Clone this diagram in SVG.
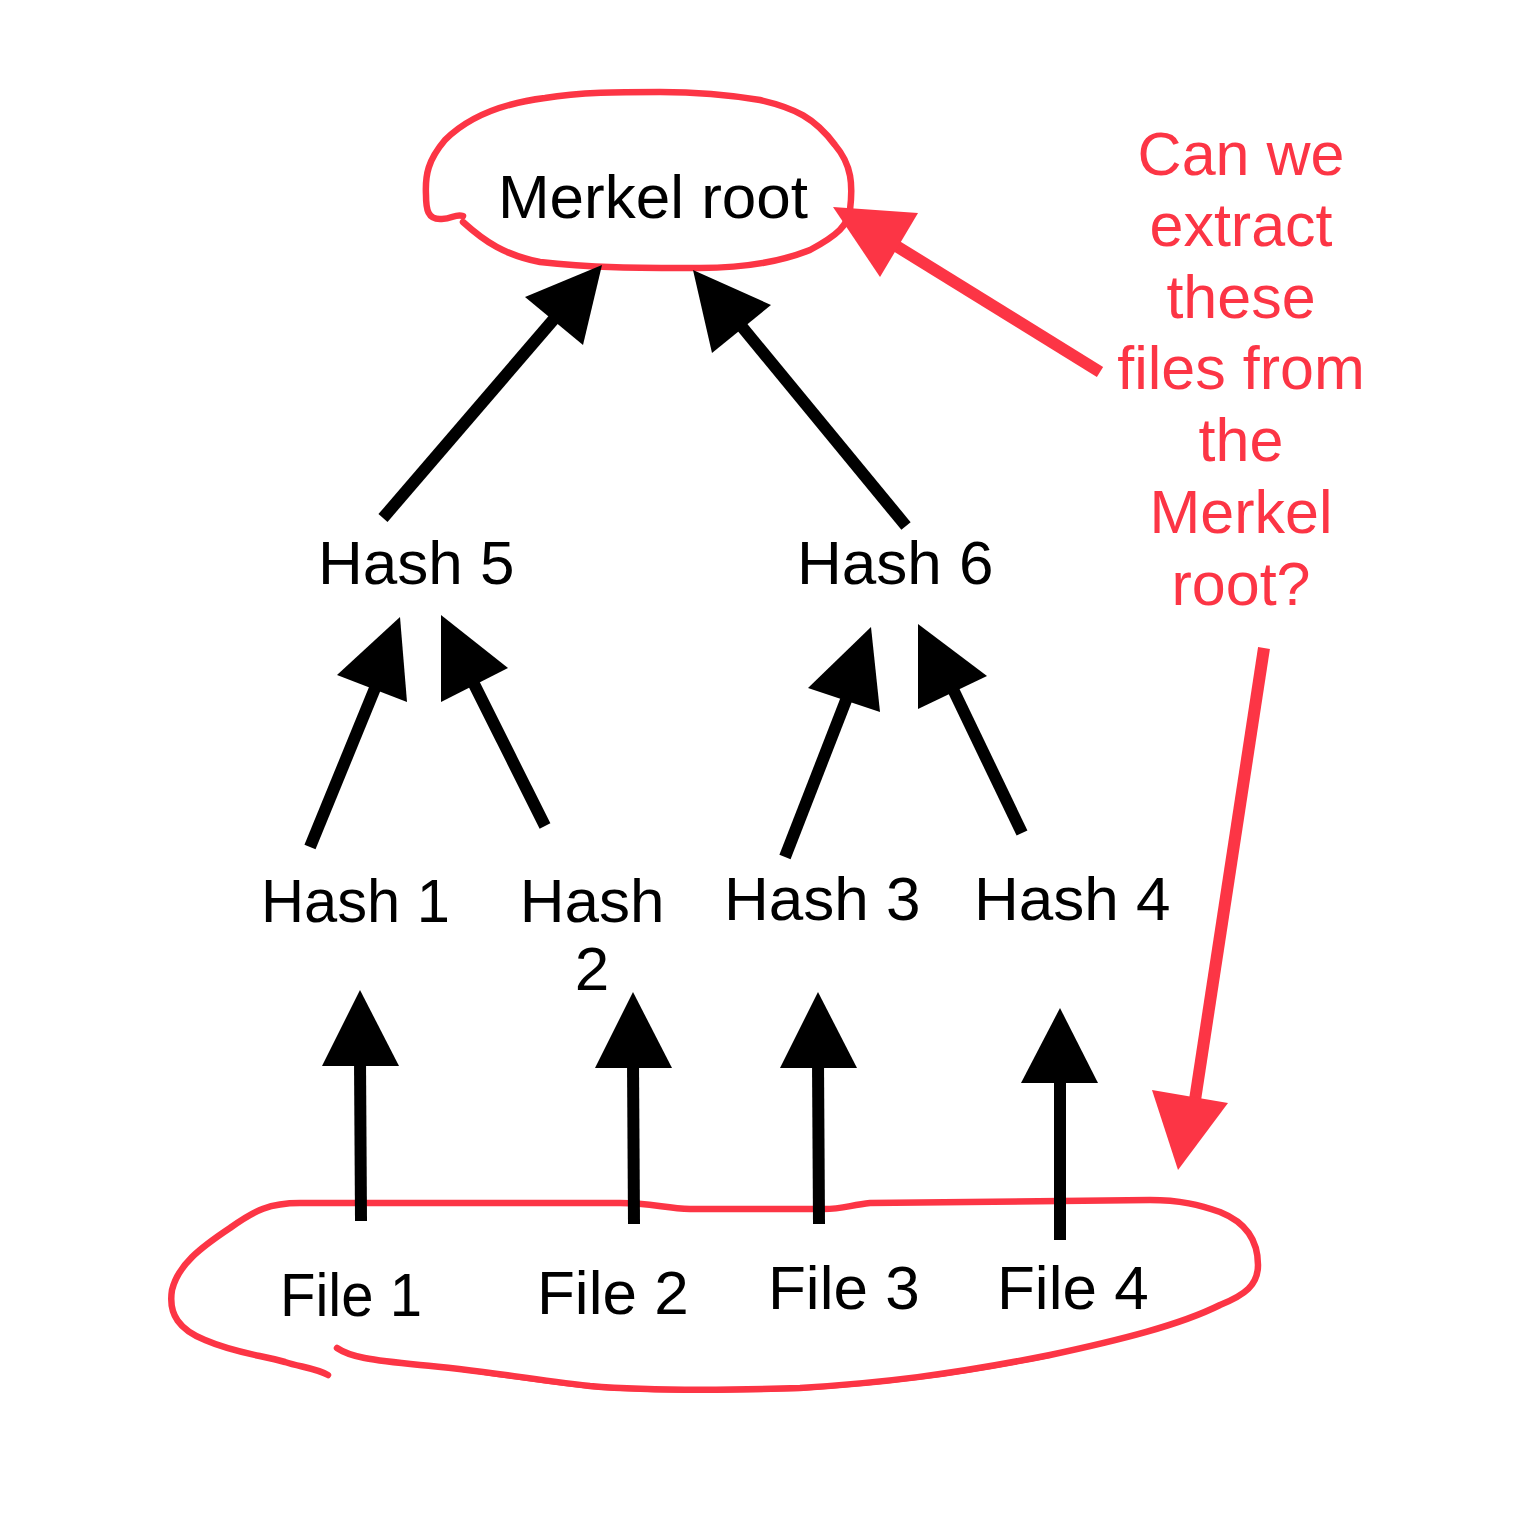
<svg xmlns="http://www.w3.org/2000/svg" width="1533" height="1536" viewBox="0 0 1533 1536">
<style>
.t{font-family:"Liberation Sans",Arial,sans-serif;font-size:62px;fill:#000}
.r{font-family:"Liberation Sans",Arial,sans-serif;font-size:61px;fill:#fc3545;text-anchor:middle}
.ln{stroke:#000;stroke-width:12;fill:none}
.hd{fill:#000}
.rl{stroke:#fc3545;stroke-width:12;fill:none}
.rh{fill:#fc3545}
.loop{stroke:#fc3545;stroke-width:6.5;fill:none;stroke-linecap:round;stroke-linejoin:round}
</style>
<rect width="1533" height="1536" fill="#fff"/>
<g id="root-loop">
<path class="loop" d="M463,216 C455,213 452,220 440,219 C428,219 426,210 426,195 C425,175 428,160 445,140 C470,115 505,103 545,98 C580,92 620,92 660,92 C700,92 730,95 760,100 C795,108 815,118 835,145 C852,165 853,185 850,210 C848,225 838,235 810,250 C780,262 740,268 700,268 C640,268 590,268 540,262 C505,255 485,242 463,222"/>
</g>
<g id="files-loop">
<path class="loop" d="M337,1348 C350,1357 370,1360 420,1365 C480,1370 520,1378 590,1386 C650,1391 740,1390 800,1388 C880,1383 950,1375 1050,1355 C1120,1340 1180,1325 1220,1305 C1245,1295 1258,1285 1258,1265 C1258,1240 1245,1222 1220,1212 C1200,1205 1180,1200 1150,1200 L870,1203 C850,1205 840,1210 820,1209 L690,1209 C665,1208 650,1203 620,1203 L300,1203 C270,1203 255,1210 230,1228 C200,1248 178,1265 172,1290 C168,1315 180,1330 205,1340 C235,1353 260,1355 285,1362 C300,1367 315,1368 328,1375"/>
<path d="M440,1367 C480,1372 520,1379 590,1387 C650,1392 740,1391 800,1389 C880,1384 950,1376 1050,1356" stroke="#fc3545" stroke-width="4" fill="none" stroke-linecap="round"/>
</g>
<g id="merkel-root"><text class="t" x="653" y="218" text-anchor="middle">Merkel root</text></g>
<g id="hash5"><text class="t" x="318" y="584">Hash 5</text></g>
<g id="hash6"><text class="t" x="797" y="584">Hash 6</text></g>
<g id="hash1"><text class="t" x="261" y="922" textLength="189" lengthAdjust="spacingAndGlyphs">Hash 1</text></g>
<g id="hash2"><text class="t" x="592" y="922" text-anchor="middle">Hash</text><text class="t" x="592" y="990" text-anchor="middle">2</text></g>
<g id="hash3"><text class="t" x="724" y="920">Hash 3</text></g>
<g id="hash4"><text class="t" x="974" y="920">Hash 4</text></g>
<g id="file1"><text class="t" x="280" y="1316" textLength="142" lengthAdjust="spacingAndGlyphs">File 1</text></g>
<g id="file2"><text class="t" x="537" y="1314">File 2</text></g>
<g id="file3"><text class="t" x="768" y="1309">File 3</text></g>
<g id="file4"><text class="t" x="997" y="1309">File 4</text></g>
<g id="question">
<text class="r" x="1241" y="175">Can we</text>
<text class="r" x="1241" y="246">extract</text>
<text class="r" x="1241" y="318">these</text>
<text class="r" x="1241" y="389">files from</text>
<text class="r" x="1241" y="461">the</text>
<text class="r" x="1241" y="533">Merkel</text>
<text class="r" x="1241" y="605">root?</text>
</g>
<g id="connectors">
<line class="ln" x1="383" y1="518" x2="560" y2="312"/><polygon class="hd" points="602,265 583,345 525,297"/>
<line class="ln" x1="906" y1="526" x2="738" y2="322"/><polygon class="hd" points="693,270 771,305 712,353"/>
<line class="ln" x1="310" y1="847" x2="380" y2="676"/><polygon class="hd" points="400,617 407,702 337,675"/>
<line class="ln" x1="545" y1="826" x2="470" y2="676"/><polygon class="hd" points="441,615 508,668 441,702"/>
<line class="ln" x1="785" y1="857" x2="850" y2="690"/><polygon class="hd" points="871,627 880,712 808,688"/>
<line class="ln" x1="1022" y1="833" x2="950" y2="683"/><polygon class="hd" points="918,624 987,676 918,709"/>
<line class="ln" x1="361" y1="1221" x2="360" y2="1060"/><polygon class="hd" points="360,990 399,1066 322,1066"/>
<line class="ln" x1="634" y1="1224" x2="633" y2="1062"/><polygon class="hd" points="633,992 672,1068 595,1068"/>
<line class="ln" x1="819" y1="1224" x2="818" y2="1062"/><polygon class="hd" points="818,992 857,1068 780,1068"/>
<line class="ln" x1="1060" y1="1240" x2="1060" y2="1078"/><polygon class="hd" points="1060,1008 1098,1083 1021,1083"/>
<line class="rl" x1="1100" y1="372" x2="893" y2="244"/><polygon class="rh" points="833,207 918,213 880,277"/>
<line class="rl" x1="1264" y1="648" x2="1195" y2="1100"/><polygon class="rh" points="1178,1170 1152,1090 1228,1103"/>
</g>
</svg>
